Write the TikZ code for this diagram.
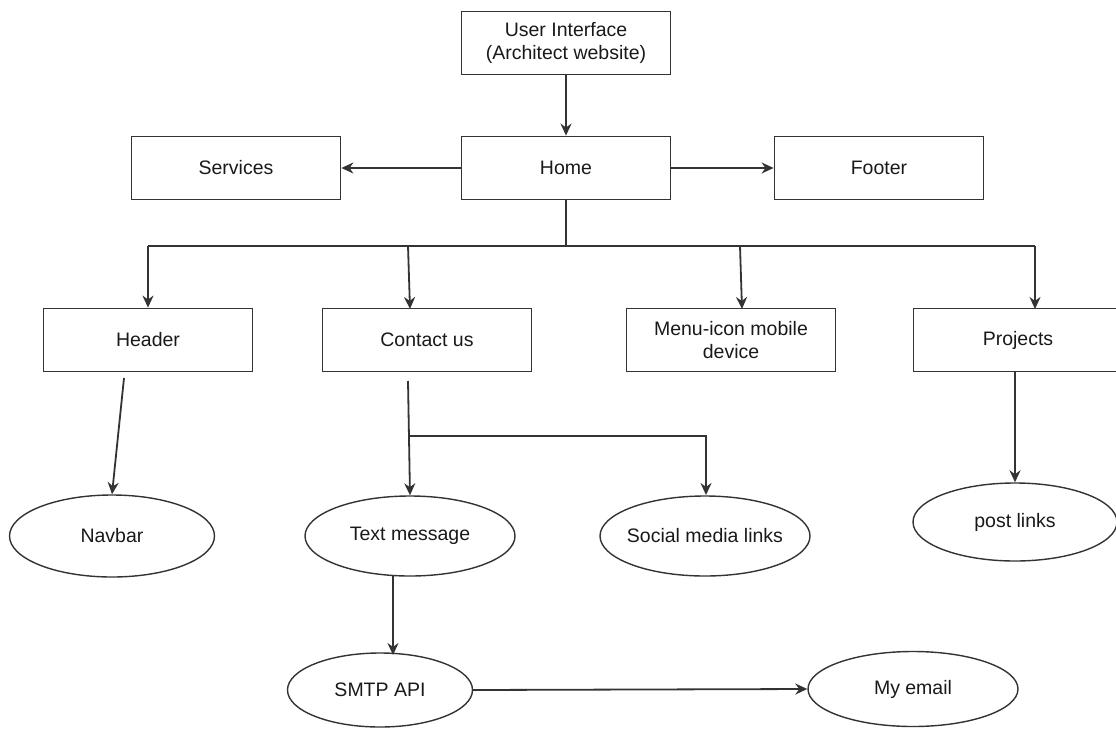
\documentclass[tikz,border=0pt]{standalone}
\usepackage{fontspec}
\setmainfont{Liberation Sans}
\usetikzlibrary{shapes.geometric,arrows.meta}
\begin{document}
\begin{tikzpicture}[x=1pt,y=-1pt,
  every node/.style={font=\fontsize{19.5}{23.5}\selectfont, text=black!90},
  boxnode/.style={draw=black!80, line width=1.8pt, rectangle, minimum width=209pt, minimum height=63pt, inner sep=0pt, align=center},
  ellnode/.style={draw=black!80, line width=1.4pt, ellipse, inner sep=0pt},
  line/.style={draw=black!80, line width=1.8pt},
  arr/.style={line, -{Stealth[length=12pt,width=11pt]}}]
\useasboundingbox (0,0) rectangle (1116,731);
\node[boxnode] (ui) at (566,43) {User Interface\\(Architect website)};
\node[boxnode] (home) at (566,168) {Home};
\node[boxnode] (serv) at (236,168) {Services};
\node[boxnode] (foot) at (879,168) {Footer};
\node[boxnode] (head) at (148,340) {Header};
\node[boxnode] (cont) at (427,340) {Contact us};
\node[boxnode] (menu) at (731,340) {Menu-icon mobile\\device};
\node[boxnode] (proj) at (1018,340) {Projects};
\node[ellnode, minimum width=205pt, minimum height=82pt] (nav) at (112,536) {Navbar};
\node[ellnode, minimum width=210pt, minimum height=80pt] (tm) at (410,536) {Text message};
\node[ellnode, inner xsep=-30pt, minimum width=210pt, minimum height=80pt] (soc) at (705,536) {Social media links};
\node[ellnode, minimum width=204pt, minimum height=78pt] (post) at (1015,522) {post links};
\node[ellnode, minimum width=185pt, minimum height=74pt] (smtp) at (380,690) {SMTP API};
\node[ellnode, minimum width=210pt, minimum height=75pt] (mail) at (913,689) {My email};
\draw[arr] (ui) -- (home);
\draw[arr] (home) -- (serv);
\draw[arr] (home) -- (foot);
\coordinate (bus) at (566,246);
\coordinate (busL) at (148,246);
\coordinate (busR) at (1035,246);
\coordinate (bC) at (408,246);
\coordinate (bM) at (740,246);
\coordinate (eC) at (410,309);
\coordinate (eM) at (742,309);
\coordinate (eP) at (1035,309);
\draw[line] (home.south) -- (bus);
\draw[line] (busL) -- (busR);
\draw[arr] (busL) -- (head.north);
\draw[arr] (bC) -- (eC);
\draw[arr] (bM) -- (eM);
\draw[arr] (busR) -- (eP);
\coordinate (hs) at (124,378);
\draw[arr] (hs) -- (nav.north);
\coordinate (cs) at (408,381);
\coordinate (cm) at (409,436);
\coordinate (sr) at (706,436);
\coordinate (se) at (706,495);
\draw[arr] (cs) -- (tm.north);
\draw[arr] (cm) -- (sr) -- (se);
\coordinate (ps) at (1015,372);
\draw[arr] (ps) -- (post.north);
\coordinate (ts) at (393,576);
\coordinate (te) at (393,655);
\draw[arr] (ts) -- (te);
\draw[arr] (smtp.east) -- (mail.west);
\end{tikzpicture}
\end{document}
